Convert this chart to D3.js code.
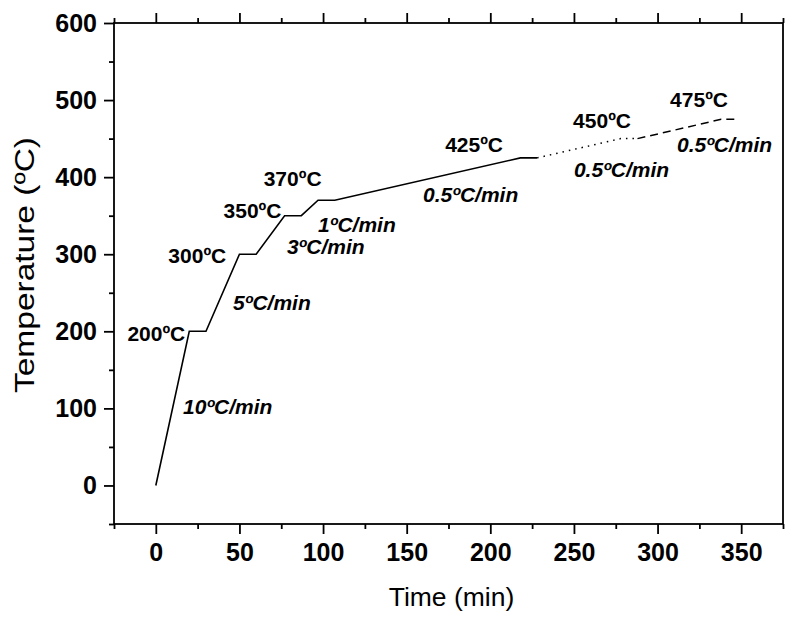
<!DOCTYPE html>
<html>
<head>
<meta charset="utf-8">
<script src="https://cdn.jsdelivr.net/npm/d3@7"></script>
<style>
  body { margin: 0; background: #fff; }
  text { font-family: "Liberation Sans", Arial, sans-serif; }
</style>
</head>
<body>
<svg id="chart" width="787" height="619"></svg>
<script>
// Heating programme: time (min) vs furnace temperature (ºC)
const solidTime  = [0, 20, 30, 50, 60, 77, 87, 97, 107, 218, 228];
const solidTemp  = [0, 200, 200, 300, 300, 350, 350, 370, 370, 425, 425];
const dottedTime = [228, 278, 288];
const dottedTemp = [425, 450, 450];
const dashedTime = [288, 338, 348];
const dashedTemp = [450, 475, 475];

const xMajor = [0, 50, 100, 150, 200, 250, 300, 350];
const xMinor = [-25, 25, 75, 125, 175, 225, 275, 325, 375];
const yMajor = [0, 100, 200, 300, 400, 500, 600];
const yMinor = [-50, 50, 150, 250, 350, 450, 550];

// Hold temperatures, anchored in data units (time, temp)
const holdText = ["200", "300", "350", "370", "425", "450", "475"];
const holdTime = [-17, 7.5, 40.5, 64.5, 173, 249.5, 307.5];
const holdTemp = [187.5, 288.5, 347.5, 389, 433, 463.5, 491.5];

// Heating rates
const rateText = ["10", "5", "3", "1", "0.5", "0.5", "0.5"];
const rateTime = [16.3, 46.2, 78.4, 97, 159.8, 250, 311.6];
const rateTemp = [92.8, 227.7, 300.3, 328.9, 368.2, 399.8, 433];

const W = 787, H = 619;
const margin = { left: 114, right: 4, top: 23, bottom: 95 };
const svg = d3.select("#chart");

const x = d3.scaleLinear().domain([-25, 375]).range([margin.left, W - margin.right]);
const y = d3.scaleLinear().domain([-50, 600]).range([H - margin.bottom, margin.top]);

const x0 = x.range()[0], x1 = x.range()[1];
const y0 = y.range()[0], y1 = y.range()[1];

// Frame
svg.append("rect")
  .attr("x", x0).attr("y", y1)
  .attr("width", x1 - x0).attr("height", y0 - y1)
  .attr("fill", "none").attr("stroke", "#000").attr("stroke-width", 1.8);

function styleAxis(g) {
  g.select(".domain").remove();
  g.selectAll("line").attr("stroke", "#000").attr("stroke-width", 1.8);
}

// Bottom axis
svg.append("g").attr("transform", `translate(0,${y0})`)
  .call(d3.axisBottom(x).tickValues(xMajor).tickSize(10).tickPadding(9).tickFormat(d3.format("d")))
  .call(styleAxis)
  .call(g => g.selectAll("text").attr("font-size", 25).attr("font-weight", "bold").attr("fill", "#000"));
svg.append("g").attr("transform", `translate(0,${y0})`)
  .call(d3.axisBottom(x).tickValues(xMinor).tickSize(5).tickFormat(""))
  .call(styleAxis);

// Top axis (ticks only)
svg.append("g").attr("transform", `translate(0,${y1})`)
  .call(d3.axisTop(x).tickValues(xMajor).tickSize(10).tickFormat(""))
  .call(styleAxis);
svg.append("g").attr("transform", `translate(0,${y1})`)
  .call(d3.axisTop(x).tickValues(xMinor).tickSize(5).tickFormat(""))
  .call(styleAxis);

// Left axis
svg.append("g").attr("transform", `translate(${x0},0)`)
  .call(d3.axisLeft(y).tickValues(yMajor).tickSize(10).tickPadding(7).tickFormat(d3.format("d")))
  .call(styleAxis)
  .call(g => g.selectAll("text").attr("font-size", 25).attr("font-weight", "bold").attr("fill", "#000"));
svg.append("g").attr("transform", `translate(${x0},0)`)
  .call(d3.axisLeft(y).tickValues(yMinor).tickSize(5).tickFormat(""))
  .call(styleAxis);

// Axis titles
svg.append("text")
  .attr("x", (x0 + x1) / 2 + 3).attr("y", 606)
  .attr("text-anchor", "middle").attr("font-size", 26.5)
  .text("Time (min)");
svg.append("text")
  .attr("transform", "translate(34,265) rotate(-90)")
  .attr("text-anchor", "middle").attr("font-size", 27.5)
  .attr("textLength", 256).attr("lengthAdjust", "spacingAndGlyphs")
  .text("Temperature (ºC)");

// Temperature programme
const line = d3.line().x(d => x(d[0])).y(d => y(d[1]));
const zip = (a, b) => a.map((v, i) => [v, b[i]]);

svg.append("path").datum(zip(solidTime, solidTemp))
  .attr("d", line).attr("fill", "none").attr("stroke", "#000").attr("stroke-width", 1.6);
svg.append("path").datum(zip(dottedTime, dottedTemp))
  .attr("d", line).attr("fill", "none").attr("stroke", "#000").attr("stroke-width", 1.5)
  .attr("stroke-dasharray", "1.5 5");
svg.append("path").datum(zip(dashedTime, dashedTemp))
  .attr("d", line).attr("fill", "none").attr("stroke", "#000").attr("stroke-width", 1.5)
  .attr("stroke-dasharray", "8 5");

// Annotations
svg.append("g").selectAll("text").data(holdText).join("text")
  .attr("x", (d, i) => x(holdTime[i])).attr("y", (d, i) => y(holdTemp[i]))
  .attr("font-size", 21).attr("font-weight", "bold")
  .text(d => d + "ºC");

svg.append("g").selectAll("text").data(rateText).join("text")
  .attr("x", (d, i) => x(rateTime[i])).attr("y", (d, i) => y(rateTemp[i]))
  .attr("font-size", 21).attr("font-weight", "bold").attr("font-style", "italic")
  .text(d => d + "ºC/min");
</script>
</body>
</html>
